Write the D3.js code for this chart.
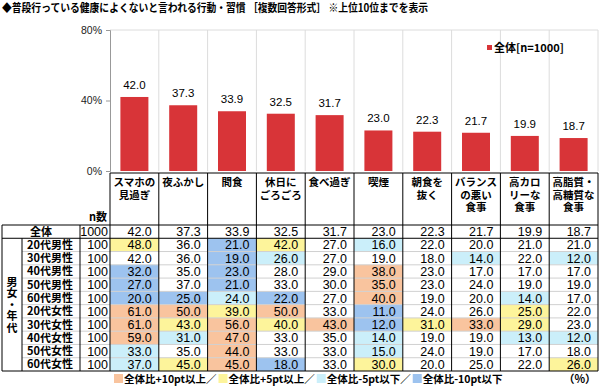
<!DOCTYPE html>
<html>
<head>
<meta charset="utf-8">
<script src="https://cdn.jsdelivr.net/npm/d3@7"></script>
<style>
  body { margin: 0; background: #fff; }
  svg { display: block; font-family: "Noto Sans CJK JP", "Noto Sans", sans-serif; }
</style>
</head>
<body>
<svg id="chart" width="600" height="388"></svg>
<script>
// categories (header labels, split per line)
var categories = [
    ["スマホの", "見過ぎ"],
    ["夜ふかし"],
    ["間食"],
    ["休日に", "ごろごろ"],
    ["食べ過ぎ"],
    ["喫煙"],
    ["朝食を", "抜く"],
    ["バランス", "の悪い", "食事"],
    ["高カロ", "リーな", "食事"],
    ["高脂質・", "高糖質な", "食事"]
];
var totalValues = [42.0, 37.3, 33.9, 32.5, 31.7, 23.0, 22.3, 21.7, 19.9, 18.7];
var rowLabels = ["20代男性", "30代男性", "40代男性", "50代男性", "60代男性",
                 "20代女性", "30代女性", "40代女性", "50代女性", "60代女性"];
var rowN = [100, 100, 100, 100, 100, 100, 100, 100, 100, 100];
var rowValues = [
    [48.0, 36.0, 21.0, 42.0, 27.0, 16.0, 22.0, 20.0, 21.0, 21.0],
    [42.0, 36.0, 19.0, 26.0, 27.0, 19.0, 18.0, 14.0, 22.0, 12.0],
    [32.0, 35.0, 23.0, 28.0, 29.0, 38.0, 23.0, 17.0, 17.0, 17.0],
    [27.0, 37.0, 21.0, 33.0, 30.0, 35.0, 23.0, 24.0, 19.0, 19.0],
    [20.0, 25.0, 24.0, 22.0, 27.0, 40.0, 19.0, 20.0, 14.0, 17.0],
    [61.0, 50.0, 39.0, 50.0, 33.0, 11.0, 24.0, 26.0, 25.0, 22.0],
    [61.0, 43.0, 56.0, 40.0, 43.0, 12.0, 31.0, 33.0, 29.0, 23.0],
    [59.0, 31.0, 47.0, 33.0, 35.0, 14.0, 19.0, 19.0, 13.0, 12.0],
    [33.0, 35.0, 44.0, 33.0, 33.0, 15.0, 24.0, 19.0, 17.0, 18.0],
    [37.0, 45.0, 45.0, 18.0, 33.0, 30.0, 20.0, 25.0, 22.0, 26.0]
];
var totalN = 1000;
var yTicks = [0, 40, 80];
var legendItems = ["全体比+10pt以上／", "全体比+5pt以上／", "全体比-5pt以下／", "全体比-10pt以下"];

var svg = d3.select("#chart");
var colLeft = 110, colRight = 598;
var keys = d3.range(categories.length);

var x = d3.scaleBand().domain(keys).range([colLeft, colRight]);
var y = d3.scaleLinear().domain([0, 80]).range([171, 30]);
var bw = 28;

// title
svg.append("text")
    .attr("x", 2).attr("y", 12)
    .attr("textLength", 426).attr("lengthAdjust", "spacingAndGlyphs")
    .style("font-size", "11px").style("font-weight", "bold")
    .text("◆普段行っている健康によくないと言われる行動・習慣 ［複数回答形式］ ※上位10位までを表示");

// plot frame + grid
var g = svg.append("g");
g.selectAll("line.vgrid").data(keys.slice(1).concat([null]))
    .enter().append("line")
    .attr("class", "vgrid")
    .attr("x1", function(d) { return d === null ? colRight : x(d); })
    .attr("x2", function(d) { return d === null ? colRight : x(d); })
    .attr("y1", y(80)).attr("y2", y(0))
    .style("stroke", "#dcdcdc");
g.append("line")
    .attr("x1", colLeft).attr("x2", colRight)
    .attr("y1", y(80)).attr("y2", y(80))
    .style("stroke", "#dcdcdc");

var yAxis = d3.axisLeft(y).tickValues(yTicks).tickSize(4).tickFormat(function(d) { return d + "%"; });
var ya = g.append("g").attr("transform", "translate(" + colLeft + ",0)").call(yAxis);
ya.select(".domain").attr("stroke", "#999");
ya.selectAll(".tick line").attr("stroke", "#999");
ya.selectAll(".tick text").attr("x", -8)
    .style("font-size", "10.5px").style("fill", "#222").style("font-family", "Liberation Sans, Arial, sans-serif");

// bars
g.selectAll("rect.bar").data(totalValues)
    .enter().append("rect")
    .attr("class", "bar")
    .attr("x", function(d, i) { return x(i) + x.bandwidth() / 2 - bw / 2; })
    .attr("y", function(d) { return y(d); })
    .attr("width", bw)
    .attr("height", function(d) { return y(0) - y(d); })
    .style("fill", "#d83438");

g.selectAll("text.blabel").data(totalValues)
    .enter().append("text")
    .attr("class", "blabel")
    .attr("x", function(d, i) { return x(i) + x.bandwidth() / 2; })
    .attr("y", function(d) { return y(d) - 8; })
    .attr("text-anchor", "middle")
    .style("font-size", "11.5px").style("font-family", "Liberation Sans, Arial, sans-serif")
    .text(function(d) { return d.toFixed(1); });

// legend (top)
svg.append("rect").attr("x", 487).attr("y", 45).attr("width", 5).attr("height", 5).style("fill", "#d83438");
svg.append("text").attr("x", 494).attr("y", 52)
    .style("font-size", "11px").style("font-weight", "bold")
    .text("全体[n=1000]");

// table
var headTop = 173, headBottom = 225, tableBottom = 371;
var rowsAll = [{label: "全体", n: totalN, values: totalValues}].concat(rowLabels.map(function(l, i) {
    return {label: l, n: rowN[i], values: rowValues[i]};
}));
var ry = d3.scaleBand().domain(d3.range(rowsAll.length)).range([headBottom, tableBottom]);

function cellColor(v, base) {
    var diff = v - base;
    if (diff >= 10) return "#f9c49e";
    if (diff >= 5) return "#fdf49b";
    if (diff <= -10) return "#9dc3ef";
    if (diff <= -5) return "#cbeffa";
    return "#fff";
}

var t = svg.append("g");

// header labels
categories.forEach(function(lines, i) {
    var tx = t.append("text")
        .attr("x", x(i) + x.bandwidth() / 2)
        .attr("y", headTop + 13)
        .attr("text-anchor", "middle")
        .style("font-size", "10.5px").style("font-weight", "bold");
    lines.forEach(function(l, k) {
        tx.append("tspan").attr("x", x(i) + x.bandwidth() / 2).attr("dy", k === 0 ? 0 : 12.5).text(l);
    });
});
t.append("text").attr("x", 107).attr("y", 221).attr("text-anchor", "end")
    .style("font-size", "11px").style("font-weight", "bold").text("n数");

// cells
rowsAll.forEach(function(r, ri) {
    var rowG = t.append("g");
    rowG.selectAll("rect").data(r.values).enter().append("rect")
        .attr("x", function(d, i) { return x(i); })
        .attr("y", ry(ri))
        .attr("width", x.bandwidth())
        .attr("height", ry.bandwidth())
        .style("fill", function(d, i) { return ri === 0 ? "#fff" : cellColor(d, totalValues[i]); });
    rowG.selectAll("text").data(r.values).enter().append("text")
        .attr("x", function(d, i) { return x(i) + x.bandwidth() - 7; })
        .attr("y", ry(ri) + ry.bandwidth() / 2 + 4.5)
        .attr("text-anchor", "end")
        .style("font-size", "12.5px").style("font-family", "Liberation Sans, Arial, sans-serif")
        .text(function(d) { return d.toFixed(1); });
    rowG.append("text")
        .attr("x", 108).attr("y", ry(ri) + ry.bandwidth() / 2 + 4.5)
        .attr("text-anchor", "end")
        .style("font-size", "12.5px").style("font-family", "Liberation Sans, Arial, sans-serif")
        .text(r.n);
    rowG.append("text")
        .attr("x", ri === 0 ? 41 : 50).attr("y", ry(ri) + ry.bandwidth() / 2 + 4)
        .attr("text-anchor", "middle")
        .style("font-size", "11px").style("font-weight", "bold")
        .text(r.label);
});

// row separators
rowsAll.forEach(function(r, ri) {
    if (ri < 2) return;
    t.append("line")
        .attr("x1", 22).attr("x2", colRight)
        .attr("y1", ry(ri)).attr("y2", ry(ri))
        .style("stroke", "#d0d0d0");
});

// black lines
var lineStyle = function(sel) { return sel.style("stroke", "#000").style("stroke-width", 1); };
lineStyle(t.append("line").attr("x1", colLeft).attr("x2", colRight).attr("y1", headTop).attr("y2", headTop));
lineStyle(t.append("line").attr("x1", 2).attr("x2", colRight).attr("y1", headBottom).attr("y2", headBottom));
lineStyle(t.append("line").attr("x1", 2).attr("x2", colRight).attr("y1", ry(1)).attr("y2", ry(1)));
lineStyle(t.append("line").attr("x1", 2).attr("x2", colRight).attr("y1", tableBottom).attr("y2", tableBottom));
keys.concat([null]).forEach(function(k) {
    var xx = k === null ? colRight : x(k);
    lineStyle(t.append("line").attr("x1", xx).attr("x2", xx).attr("y1", headTop).attr("y2", tableBottom));
});
[2, 80].forEach(function(xx) {
    lineStyle(t.append("line").attr("x1", xx).attr("x2", xx).attr("y1", headBottom).attr("y2", tableBottom));
});
lineStyle(t.append("line").attr("x1", 22).attr("x2", 22).attr("y1", ry(1)).attr("y2", tableBottom));

// vertical group label
t.append("text")
    .attr("x", 12)
    .attr("y", 305)
    .attr("text-anchor", "middle")
    .style("writing-mode", "vertical-rl")
    .style("letter-spacing", "0.5px")
    .style("font-size", "11px").style("font-weight", "bold")
    .text("男女・年代");

// bottom legend
var legColors = ["#f9c49e", "#fdf49b", "#cbeffa", "#9dc3ef"];
var lx = 114;
legendItems.forEach(function(label, i) {
    svg.append("rect").attr("x", lx).attr("y", 374).attr("width", 9).attr("height", 9).style("fill", legColors[i]);
    var tx = svg.append("text").attr("x", lx + 10).attr("y", 383)
        .style("font-size", "10.5px").style("font-weight", "bold").text(label);
    lx += 10 + tx.node().getComputedTextLength() + 2;
});
svg.append("text").attr("x", 596).attr("y", 383).attr("text-anchor", "end")
    .style("font-size", "11px").style("font-weight", "bold").text("（%）");
</script>
</body>
</html>
